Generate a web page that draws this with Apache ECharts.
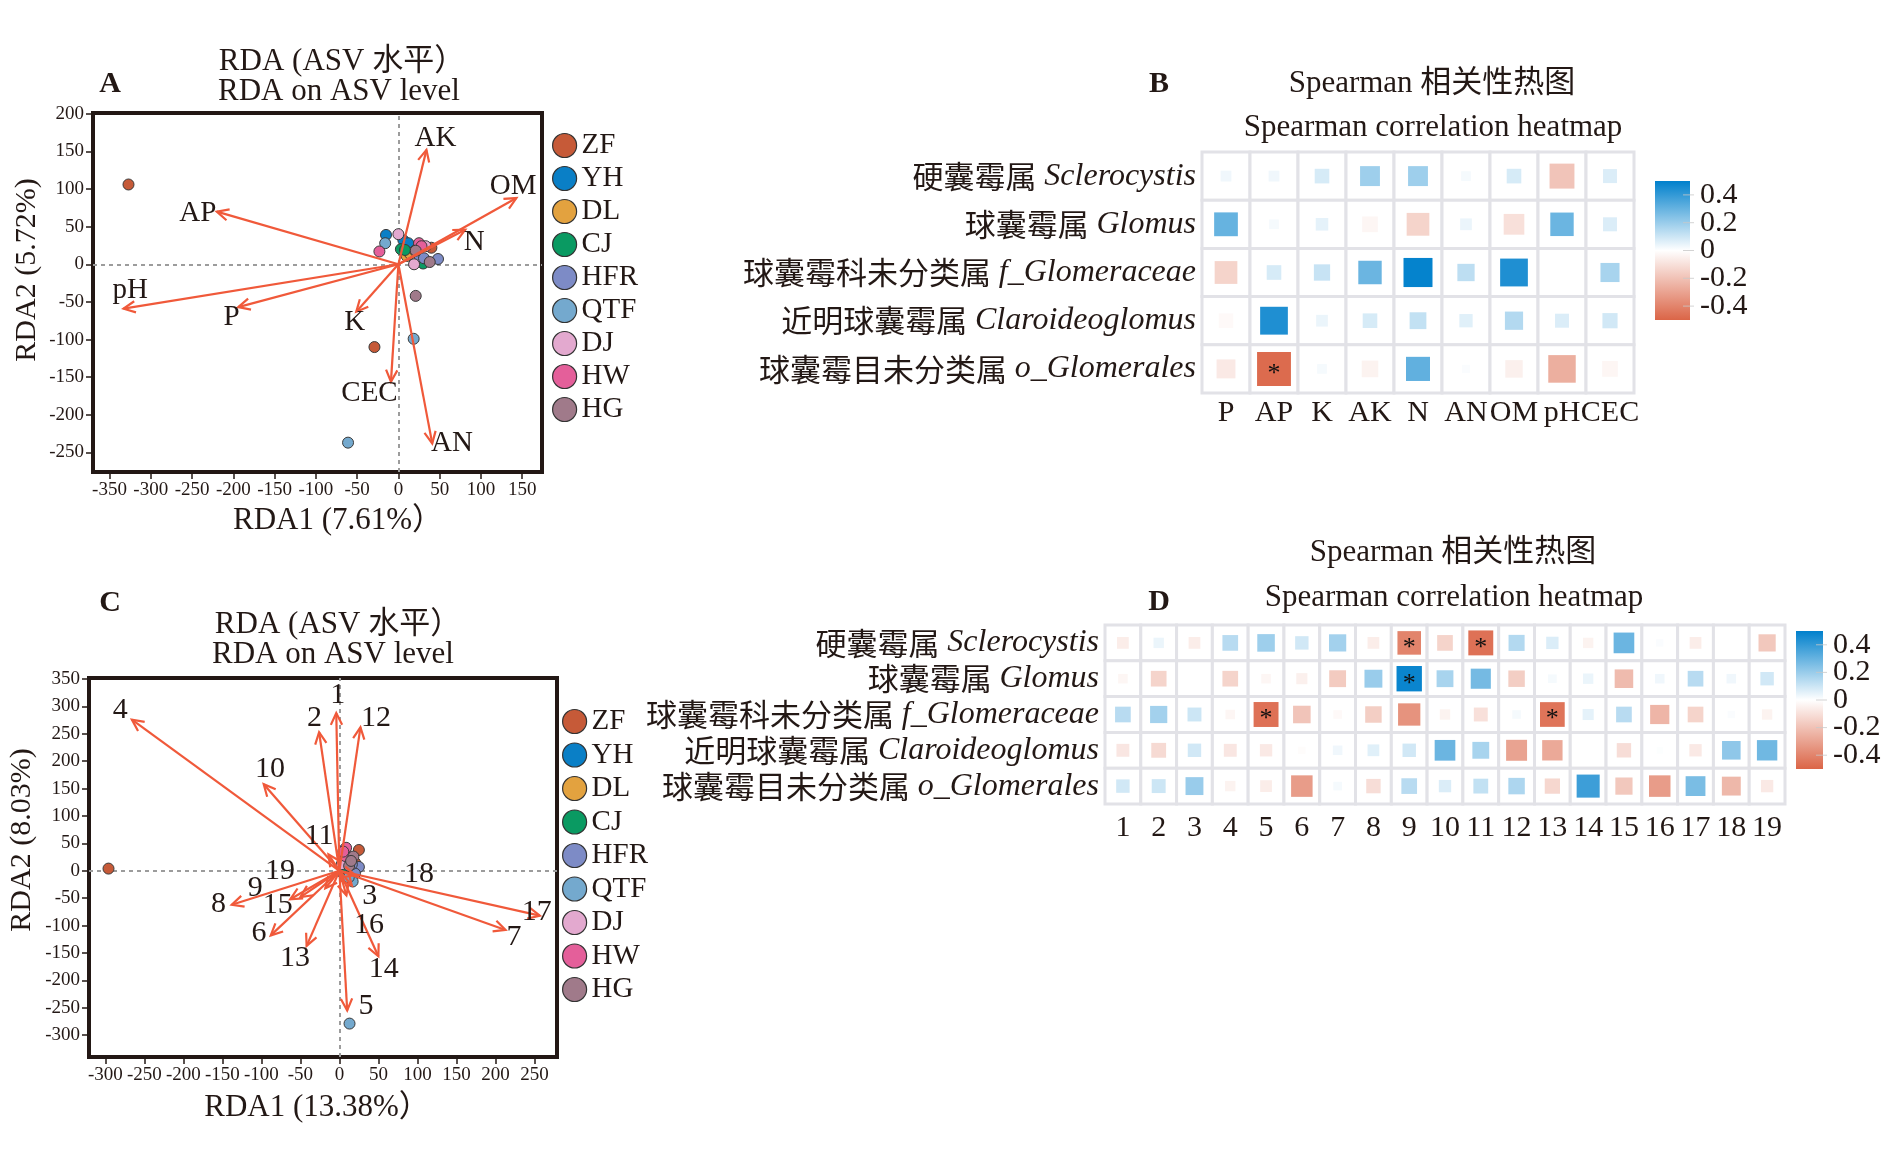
<!DOCTYPE html>
<html><head><meta charset="utf-8">
<script src="https://cdn.jsdelivr.net/npm/echarts@6/dist/echarts.min.js"></script>
<style>html,body{margin:0;padding:0;background:#fff}#c{width:1890px;height:1162px}</style>
</head><body><div id="c"></div>
<script>
// ---------------- data ----------------
const groups = ['ZF','YH','DL','CJ','HFR','QTF','DJ','HW','HG'];
const groupColors = ['#C65A38','#0A7FC6','#E3A23F','#0A9A62','#7D8BC6','#74A9CE','#E3A9CF','#E45F9A','#A07A8A'];

// Panel A sample scores [group, RDA1, RDA2]
const samplesA = [
  ['ZF',-327,106],['ZF',-29,-110],['ZF',40,22],
  ['YH',-15,39],['YH',6,32],['YH',12,28],
  ['DL',10,11],['DL',14,14],['DL',20,18],
  ['CJ',3,20],['CJ',8,19],['CJ',30,1],
  ['HFR',26,10],['HFR',48,7],['HFR',31,8],
  ['QTF',-16,28],['QTF',18.5,-99],['QTF',-61,-237],
  ['DJ',0,40],['DJ',19,0],['DJ',33,24],
  ['HW',-23,17],['HW',25,28],['HW',28,24],
  ['HG',21,-42],['HG',38,3],['HG',21,18]
];
// Panel A environmental arrows
const envA = ['AK','OM','N','AP','pH','P','K','CEC','AN'];
const envAX = [34,143,81,-220,-333,-194,-51,-9,41];
const envAY = [152,88,46,70,-59,-57,-63,-156,-238];
const envALabelX = [45,139,92,-243,-325,-202,-53,-35,65];
const envALabelY = [167,103,29,68,-35,-71,-77,-172,-238];
const ticksAX = [-350,-300,-250,-200,-150,-100,-50,0,50,100,150];
const ticksAY = [-250,-200,-150,-100,-50,0,50,100,150,200];

// Panel C sample scores
const samplesC = [
  ['ZF',-296,4],['ZF',25,38],['ZF',20,15],
  ['YH',10,5],['YH',5,-5],['YH',14,-10],
  ['DL',8,2],['DL',12,-3],['DL',6,10],
  ['CJ',10,-8],['CJ',15,0],['CJ',4,5],
  ['HFR',25,7],['HFR',20,-5],['HFR',16,12],
  ['QTF',13,-279],['QTF',17,-19.5],['QTF',12,-12],
  ['DJ',5,20],['DJ',9,30],['DJ',3,12],
  ['HW',8.6,42],['HW',7.5,27],['HW',5,35],
  ['HG',18,26],['HG',12.5,9],['HG',15,18]
];
// Panel C arrows 1..19
const envC = ['1','2','3','4','5','6','7','8','9','10','11','12','13','14','15','16','17','18','19'];
const envCX = [-4,-26,16,-266,10,-88,213,-138,-50,-97,-14,27,-42,50,-63,9,257,20,-18];
const envCY = [288,253,-27,276,-255,-118,-108,-62,-48,158,30,262,-137,-156,-52,-45,-82,-8,-32];
const envCLabelX = [-2,-32,39,-281,34,-103,224,-155,-108,-89,-26,47,-57,57,-79,38,253,102,-76];
const envCLabelY = [320,278,-47,293,-248,-114,-121,-60,-32,186,64,278,-159,-180,-63,-99,-76,-7,0];
const ticksCX = [-300,-250,-200,-150,-100,-50,0,50,100,150,200,250];
const ticksCY = [-300,-250,-200,-150,-100,-50,0,50,100,150,200,250,300,350];

// Heatmaps
const generaCn = ['硬囊霉属','球囊霉属','球囊霉科未分类属','近明球囊霉属','球囊霉目未分类属'];
const generaLatin = ['Sclerocystis','Glomus','f_Glomeraceae','Claroideoglomus','o_Glomerales'];
const factorsB = ['P','AP','K','AK','N','AN','OM','pH','CEC'];
const corrB = [
  [0.03,0.03,0.08,0.19,0.19,0.02,0.08,-0.19,0.07],
  [0.30,0.02,0.05,-0.03,-0.14,0.04,-0.10,0.29,0.07],
  [-0.14,0.08,0.11,0.29,0.49,0.13,0.44,0,0.17],
  [-0.02,0.44,0.04,0.08,0.12,0.06,0.15,0.07,0.09],
  [-0.07,-0.48,0.02,-0.04,0.31,0.01,-0.05,-0.26,-0.03]
];
const sigB = [[1,4]];
const asvD = ['1','2','3','4','5','6','7','8','9','10','11','12','13','14','15','16','17','18','19'];
const corrD = [
  [-0.06,0.04,-0.06,0.14,0.19,0.09,0.18,-0.06,-0.40,-0.14,-0.46,0.15,0.07,-0.04,0.29,0.01,-0.06,0,-0.18],
  [-0.03,-0.14,0,-0.14,-0.03,-0.05,-0.17,0.20,0.48,0.17,0.27,-0.16,0.02,0.04,-0.22,0.03,0.14,0.03,0.09],
  [0.14,0.18,0.10,-0.03,-0.46,-0.19,-0.02,-0.16,-0.35,-0.04,-0.10,0.02,-0.45,0.05,0.14,-0.24,-0.14,0.01,-0.04],
  [-0.08,-0.12,0.09,-0.08,-0.07,-0.01,0.03,0.06,0.09,0.29,0.17,-0.30,-0.28,0,-0.11,0.005,-0.07,0.22,0.28],
  [0.09,0.10,0.20,-0.04,-0.06,-0.32,0.02,-0.11,0.14,0.07,0.12,0.16,-0.13,0.38,-0.18,-0.32,0.26,-0.23,-0.07]
];
const sigD = [[8,0],[10,0],[8,1],[4,2],[12,2]];
const colorbarTicks = [-0.4,-0.2,0,0.2,0.4];
const corrRange = [-0.5,0.5];

// ---------------- style ----------------
const INK = '#231815';
const ARROW = '#F0593A';
const SERIF = '"Liberation Serif","Times New Roman","Noto Sans CJK SC",serif';
const CJK = '"Noto Sans CJK SC","Liberation Serif",sans-serif';
const GRIDLINE = '#E2E2E7';
const RAMP = ['#DB6547','#FFFFFF','#0080CC'];

const chart = echarts.init(document.getElementById('c'), null, {renderer:'canvas'});

function scatterAxes(gi, xr, yr, xt, yt) {
  const tick = {show:true, length:7, lineStyle:{color:INK, width:1.5}};
  const lab = {color:INK, fontFamily:SERIF, fontSize:19, hideOverlap:false, showMinLabel:true, showMaxLabel:true};
  return {
    x: {gridIndex:gi, type:'value', min:xr[0], max:xr[1], splitLine:{show:false}, axisLine:{show:false, onZero:false},
        axisTick:Object.assign({customValues:xt}, tick), axisLabel:Object.assign({customValues:xt, margin:9}, lab)},
    y: {gridIndex:gi, type:'value', min:yr[0], max:yr[1], splitLine:{show:false}, axisLine:{show:false, onZero:false},
        axisTick:Object.assign({customValues:yt}, tick), axisLabel:Object.assign({customValues:yt, margin:9}, lab)}
  };
}
const axA = scatterAxes(0, [-370,174], [-276,201], ticksAX, ticksAY);
const axC = scatterAxes(1, [-321,279], [-340,352], ticksCX, ticksCY);

function catAxes(gi, cols, margX, margY) {
  return {
    x: {gridIndex:gi, type:'category', data:cols, axisLine:{show:false}, axisTick:{show:false}, splitLine:{show:false},
        axisLabel:{interval:0, hideOverlap:false, color:INK, fontFamily:SERIF, fontSize:30, margin:margX}},
    y: {gridIndex:gi, type:'category', data:generaLatin, inverse:true, axisLine:{show:false}, axisTick:{show:false}, splitLine:{show:false},
        axisLabel:{interval:0, hideOverlap:false, color:INK, fontFamily:SERIF, fontSize:31, margin:margY,
          formatter:(v,i)=>'{cn|'+generaCn[i]+'} {it|'+generaLatin[i]+'}',
          rich:{cn:{fontFamily:CJK, fontSize:31, color:INK}, it:{fontFamily:SERIF, fontStyle:'italic', fontSize:32, color:INK}}}}
  };
}
const axB = catAxes(2, factorsB, 5, 6);
const axD = catAxes(3, asvD, 9, 6);

function cbAxes(gi) {
  return {
    x: {gridIndex:gi, type:'value', min:0, max:1, show:false},
    y: {gridIndex:gi, type:'value', min:corrRange[0], max:corrRange[1], show:false}
  };
}
const axCB1 = cbAxes(4), axCB2 = cbAxes(5);

function arrowRender() {
  return function(params, api) {
    const p0 = api.coord([0,0]);
    const p1 = api.coord([api.value(0), api.value(1)]);
    const ang = Math.atan2(p1[1]-p0[1], p1[0]-p0[0]);
    const L = 13, a = 0.45;
    const h1 = [p1[0]-L*Math.cos(ang-a), p1[1]-L*Math.sin(ang-a)];
    const h2 = [p1[0]-L*Math.cos(ang+a), p1[1]-L*Math.sin(ang+a)];
    return {type:'group', children:[
      {type:'line', shape:{x1:p0[0],y1:p0[1],x2:p1[0],y2:p1[1]}, style:{stroke:ARROW, lineWidth:2.2}},
      {type:'polyline', shape:{points:[h1,p1,h2]}, style:{stroke:ARROW, lineWidth:2.2, fill:null}}
    ]};
  };
}
function labelRender(names, size) {
  return function(params, api) {
    const p = api.coord([api.value(0), api.value(1)]);
    return {type:'text', x:p[0], y:p[1], style:{text:names[params.dataIndex], fill:INK,
      font:size+'px '+SERIF, align:'center', verticalAlign:'middle'}};
  };
}
function heatRender(sizeCfg, sigList) {
  const sig = new Set(sigList.map(p=>p[0]+','+p[1]));
  return function(params, api) {
    const ci = api.value(0), ri = api.value(1), v = api.value(2);
    const c = api.coord([ci, ri]);
    const s = api.size([1,1]);
    const k = v >= 0 ? sizeCfg.pos : sizeCfg.neg;
    const ratio = Math.abs(v) < 1e-6 ? 0 : Math.min(0.9, k[0] + k[1]*Math.sqrt(Math.abs(v)));
    const w = s[0]*ratio, h = s[1]*ratio;
    const children = [{type:'rect', shape:{x:c[0]-s[0]/2, y:c[1]-s[1]/2, width:s[0], height:s[1]},
      style:{fill:'#fff', stroke:GRIDLINE, lineWidth:3}}];
    if (ratio > 0) children.push({type:'rect', shape:{x:c[0]-w/2, y:c[1]-h/2, width:w, height:h},
      style:{fill:api.visual('color')}});
    if (sig.has(ci+','+ri)) children.push({type:'text', x:c[0], y:c[1]+5,
      style:{text:'*', fill:'#111', font:'26px '+SERIF, align:'center', verticalAlign:'middle'}});
    return {type:'group', children};
  };
}
function cbRender(params, api) {
  const tl = api.coord([0, corrRange[1]]), br = api.coord([1, corrRange[0]]);
  const children = [{type:'rect', shape:{x:tl[0], y:tl[1], width:br[0]-tl[0], height:br[1]-tl[1]},
    style:{fill:new echarts.graphic.LinearGradient(0,0,0,1,[
      {offset:0, color:RAMP[2]},{offset:0.5, color:RAMP[1]},{offset:1, color:RAMP[0]}])}}];
  colorbarTicks.forEach(t => {
    const p = api.coord([1, t]);
    children.push({type:'line', shape:{x1:p[0]-7, y1:p[1], x2:p[0]+4, y2:p[1]},
      style:{stroke:'rgba(200,200,200,0.8)', lineWidth:1}});
    children.push({type:'text', x:p[0]+10, y:p[1], style:{text:Math.abs(t)<1e-9?'0':String(t), fill:INK,
      font:'30px '+SERIF, align:'left', verticalAlign:'middle'}});
  });
  return {type:'group', children};
}

const series = [];
function addScatter(samples, gi, withZeroLines) {
  groups.forEach((g, i) => {
    const s = {type:'scatter', name:g, xAxisIndex:gi, yAxisIndex:gi, z:2,
      data: samples.filter(d=>d[0]===g).map(d=>[d[1], d[2]]),
      symbolSize:11, itemStyle:{color:groupColors[i], borderColor:'#3a3a3a', borderWidth:1, opacity:1}};
    if (i === 0 && withZeroLines) s.markLine = {silent:true, symbol:['none','none'], label:{show:false},
      lineStyle:{type:[4,4], color:'#9C9C9C', width:2}, data:[{xAxis:0},{yAxis:0}], z:1};
    series.push(s);
  });
}
addScatter(samplesA, 0, true);
addScatter(samplesC, 1, true);
series.push({type:'custom', xAxisIndex:0, yAxisIndex:0, z:5, renderItem:arrowRender(),
  data: envAX.map((x,i)=>[x, envAY[i]])});
series.push({type:'custom', xAxisIndex:0, yAxisIndex:0, z:6, renderItem:labelRender(envA, 29),
  data: envALabelX.map((x,i)=>[x, envALabelY[i]])});
series.push({type:'custom', xAxisIndex:1, yAxisIndex:1, z:5, renderItem:arrowRender(),
  data: envCX.map((x,i)=>[x, envCY[i]])});
series.push({type:'custom', xAxisIndex:1, yAxisIndex:1, z:6, renderItem:labelRender(envC, 30),
  data: envCLabelX.map((x,i)=>[x, envCLabelY[i]])});
const heatBIndex = series.length;
const dataB = []; corrB.forEach((row,r)=>row.forEach((v,c)=>dataB.push([c, r, v])));
series.push({type:'custom', xAxisIndex:2, yAxisIndex:2, renderItem:heatRender({pos:[0.1,0.72], neg:[0.2,0.73]}, sigB),
  encode:{x:0, y:1}, data:dataB});
const heatDIndex = series.length;
const dataD = []; corrD.forEach((row,r)=>row.forEach((v,c)=>dataD.push([c, r, v])));
series.push({type:'custom', xAxisIndex:3, yAxisIndex:3, renderItem:heatRender({pos:[0.12,0.85], neg:[0.12,0.85]}, sigD),
  encode:{x:0, y:1}, data:dataD});
series.push({type:'custom', xAxisIndex:4, yAxisIndex:4, renderItem:cbRender, data:[[0,0]]});
series.push({type:'custom', xAxisIndex:5, yAxisIndex:5, renderItem:cbRender, data:[[0,0]]});

function txt(t, x, y, size, opts) {
  opts = opts || {};
  return {type:'text', x:x, y:y, rotation:opts.rot||0, z:10,
    style:{text:t, fill:INK, font:(opts.bold?'bold ':'')+size+'px '+SERIF, align:'center', verticalAlign:'middle'}};
}
const graphics = [
  txt('A',110,84,30,{bold:true}), txt('RDA (ASV 水平）',342,62,31), txt('RDA on ASV level',339,92,31),
  txt('RDA1 (7.61%）',338,521,31), txt('RDA2 (5.72%)',27,270,30,{rot:Math.PI/2}),
  txt('C',110,603,30,{bold:true}), txt('RDA (ASV 水平）',338,625,31), txt('RDA on ASV level',333,655,31),
  txt('RDA1 (13.38%）',317,1108,31), txt('RDA2 (8.03%)',22,840,30,{rot:Math.PI/2}),
  txt('B',1159,84,30,{bold:true}), txt('Spearman 相关性热图',1432,84,31), txt('Spearman correlation heatmap',1433,128,31),
  txt('D',1159,602,30,{bold:true}), txt('Spearman 相关性热图',1453,553,31), txt('Spearman correlation heatmap',1454,598,31)
];

const legendBase = {orient:'vertical', itemWidth:24, itemHeight:24, icon:'circle', data:groups, selectedMode:false,
  textStyle:{fontSize:29, fontFamily:SERIF, color:INK}, itemStyle:{borderColor:'#333', borderWidth:1.2}};

const frame = {show:true, borderColor:INK, borderWidth:4, backgroundColor:'transparent', outerBoundsMode:'none'};
chart.setOption({
  animation:false,
  backgroundColor:'#fff',
  textStyle:{fontFamily:SERIF},
  grid:[
    Object.assign({left:93, top:113, width:449, height:359}, frame),
    Object.assign({left:89, top:678, width:468, height:379}, frame),
    {left:1202, top:152, width:432, height:241, show:false, outerBoundsMode:'none'},
    {left:1105, top:625, width:680, height:179, show:false, outerBoundsMode:'none'},
    {left:1655, top:181, width:35, height:139, show:false, outerBoundsMode:'none'},
    {left:1796, top:631, width:27, height:138, show:false, outerBoundsMode:'none'}
  ],
  xAxis:[axA.x, axC.x, axB.x, axD.x, axCB1.x, axCB2.x],
  yAxis:[axA.y, axC.y, axB.y, axD.y, axCB1.y, axCB2.y],
  legend:[Object.assign({left:547, top:126, itemGap:4}, legendBase),
          Object.assign({left:557, top:702, itemGap:4.5}, legendBase)],
  visualMap:[{type:'continuous', show:false, min:corrRange[0], max:corrRange[1], dimension:2,
    seriesIndex:[heatBIndex, heatDIndex], inRange:{color:RAMP}}],
  graphic:graphics,
  series:series
});
</script></body></html>
